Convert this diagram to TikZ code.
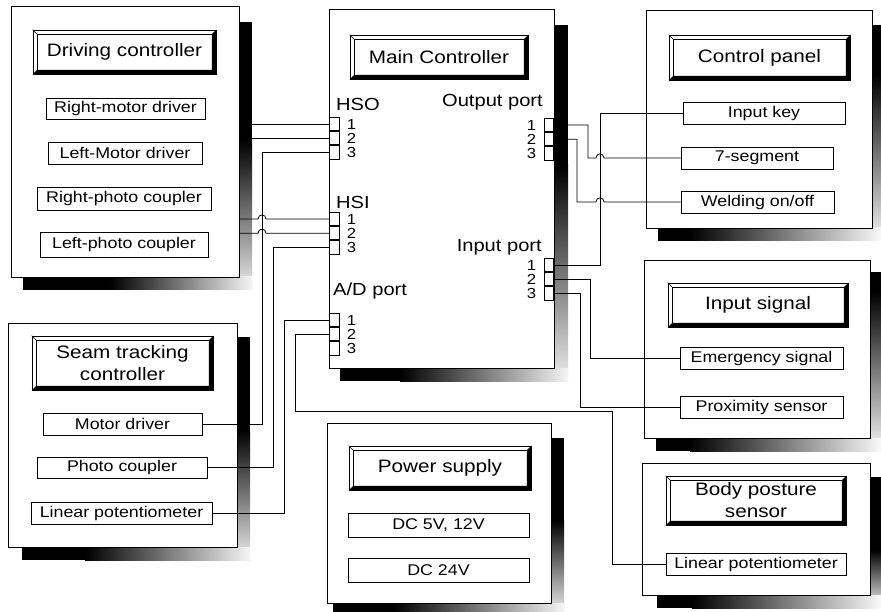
\documentclass[tikz,border=0pt]{standalone}
\usepackage{fontspec}
\setmainfont[FakeStretch=1.15]{Liberation Sans}
\tikzset{
  panel/.style={draw, line width=0.7pt, fill=white, inner sep=0pt},
  sub/.style={draw, line width=0.9pt, fill=white, inner sep=0pt, font=\fontsize{15.5}{18}\selectfont},
  ttl/.style={draw, line width=0.7pt, fill=white, inner sep=0pt, align=center, font=\fontsize{18}{22}\selectfont},
  plabel/.style={inner sep=0pt, font=\fontsize{17.5}{20}\selectfont},
  pnum/.style={inner sep=0pt, font=\fontsize{14.5}{14}\selectfont},
  portbox/.style={draw, line width=0.9pt, fill=white, minimum width=9.5pt, minimum height=13.3pt, inner sep=0pt},
  wire/.style={line width=0.8pt},
}
% box from corner (x1,y1) to (x2,y2): style, name, x1, y1, x2, y2, text
\newcommand\bx[7]{%
  \pgfmathsetmacro\bxw{#5-#3}\pgfmathsetmacro\bxh{#6-#4}%
  \pgfmathsetmacro\bxx{(#3+#5)/2}\pgfmathsetmacro\bxy{(#4+#6)/2}%
  \node[#1, minimum width=\bxw pt, minimum height=\bxh pt] (#2) at (\bxx,\bxy) {#7};}
\newcommand\bevel[1]{%
  \fill[black] (#1.south west) -- (#1.south east) -- (#1.north east)
    -- ([xshift=-4.5pt,yshift=-4.5pt]#1.north east) -- ([xshift=-4.5pt,yshift=4.5pt]#1.south east)
    -- ([xshift=4.5pt,yshift=4.5pt]#1.south west) -- cycle;
  \draw[line width=0.6pt] ([xshift=4.5pt,yshift=-4.5pt]#1.north west) rectangle ([xshift=-4.5pt,yshift=4.5pt]#1.south east);
  \draw[line width=0.6pt] (#1.north west) -- ([xshift=4.5pt,yshift=-4.5pt]#1.north west);
}
\begin{document}
\begin{tikzpicture}[x=1pt,y=-1pt]
\useasboundingbox (0,0) rectangle (881,612);
% ---------- shadows ----------
% driving
\fill (239,22) rectangle (252,140);
\shade[top color=black, bottom color=gray!15] (239,140) rectangle (252,290);
\fill (23,277) rectangle (110,290);
\shade[left color=black, right color=gray!8] (110,277) rectangle (252,290);
% seam
\fill (237,337) rectangle (250,430);
\shade[top color=black, bottom color=gray!15] (237,430) rectangle (250,560);
\fill (22,547) rectangle (85,560);
\shade[left color=black, right color=gray!8] (85,547) rectangle (250,560);
% main
\fill (554,25) rectangle (568,165);
\shade[top color=black, bottom color=gray!15] (554,165) rectangle (568,381);
\fill (340,368) rectangle (400,381);
\shade[left color=black, right color=gray!8] (400,368) rectangle (568,381);
% power
\fill (551,438) rectangle (564,520);
\shade[top color=black, bottom color=gray!15] (551,520) rectangle (564,612);
\fill (333,603) rectangle (393,612);
\shade[left color=black, right color=gray!8] (393,603) rectangle (564,612);
% control panel
\fill (872,25) rectangle (881,75);
\shade[top color=black, bottom color=gray!8] (872,75) rectangle (881,241);
\fill (658,228) rectangle (690,241);
\shade[left color=black, right color=gray!5] (690,228) rectangle (881,241);
% input signal
\fill (870,272) rectangle (881,292);
\shade[top color=black, bottom color=gray!8] (870,292) rectangle (881,451);
\fill (656,438) rectangle (690,451);
\shade[left color=black, right color=gray!5] (690,438) rectangle (881,451);
% body posture
\fill (870,477) rectangle (881,550);
\shade[top color=black, bottom color=gray!10] (870,550) rectangle (881,608);
\fill (657,595) rectangle (692,608);
\shade[left color=black, right color=gray!5] (692,595) rectangle (881,608);

% ---------- panels ----------
\bx{panel}{drv}{11}{6}{239}{277}{}
\bx{panel}{seam}{8}{323}{237}{547}{}
\bx{panel}{mainp}{329}{9}{554}{368}{}
\bx{panel}{pow}{327}{423}{551}{603}{}
\bx{panel}{ctl}{646}{10}{872}{228}{}
\bx{panel}{insig}{644}{260}{870}{438}{}
\bx{panel}{body}{642}{463}{870}{595}{}

% ---------- titles ----------
\bx{ttl}{drvt}{33}{30}{216}{74}{Driving controller}
\bx{ttl}{seamt}{32}{336}{213}{390}{Seam tracking\\controller}
\bx{ttl}{maint}{350}{35}{528}{79}{Main Controller}
\bx{ttl}{powt}{349}{446}{531}{490}{Power supply}
\bx{ttl}{ctlt}{669}{35}{850}{80}{Control panel}
\bx{ttl}{insigt}{668}{283}{848}{327}{Input signal}
\bx{ttl}{bodyt}{666}{476}{846}{525}{Body posture\\sensor}
\bevel{drvt}\bevel{seamt}\bevel{maint}\bevel{powt}\bevel{ctlt}\bevel{insigt}\bevel{bodyt}

% ---------- sub boxes ----------
\bx{sub}{rmd}{46}{98}{205}{119}{Right-motor driver}
\bx{sub}{lmd}{48}{142}{202}{164}{Left-Motor driver}
\bx{sub}{rpc}{37}{187}{211}{210}{Right-photo coupler}
\bx{sub}{lpc}{40}{232}{208}{257}{Left-photo coupler}
\bx{sub}{md}{43}{413}{202}{435}{Motor driver}
\bx{sub}{pc}{37}{457}{207}{478}{Photo coupler}
\bx{sub}{lp}{31}{502}{212}{524}{Linear potentiometer}
\bx{sub}{ik}{683}{102}{845}{124}{Input key}
\bx{sub}{seg}{681}{147}{833}{169}{7-segment}
\bx{sub}{wel}{681}{191}{834}{213}{Welding on/off}
\bx{sub}{em}{680}{347}{843}{369}{Emergency signal}
\bx{sub}{prox}{680}{396}{843}{418}{Proximity sensor}
\bx{sub}{dca}{348}{513}{529}{537}{DC 5V, 12V}
\bx{sub}{dcb}{348}{558}{529}{582}{DC 24V}
\bx{sub}{blp}{666}{553}{846}{575}{Linear potentiometer}

% ---------- port labels ----------
\node[plabel, anchor=west] (hsol) at (336,104) {HSO};
\node[plabel, anchor=west] (hsil) at (336,202) {HSI};
\node[plabel, anchor=west] (adl) at (333,291) {A/D port};
\node[plabel, anchor=east] (outl) at (543,102) {Output port};
\node[plabel, anchor=east] (inl) at (542,247) {Input port};

% ---------- channel coordinates ----------
\coordinate (vA) at (262,0);
\coordinate (vB) at (273,0);
\coordinate (vC) at (284,0);
\coordinate (vD) at (295,0);
\coordinate (hD) at (0,411);
\coordinate (vE) at (612,0);
\coordinate (vO1) at (588,0);
\coordinate (vO2) at (577,0);
\coordinate (vO3) at (567,0);
\coordinate (vI1) at (600,0);
\coordinate (vI2) at (590,0);
\coordinate (vI3) at (580,0);

% ---------- ports ----------
\node[portbox, anchor=north west] (hso1) at (329,117) {};
\node[portbox, anchor=north] (hso2) at (hso1.south) {};
\node[portbox, anchor=north] (hso3) at (hso2.south) {};
\node[portbox, anchor=north west] (hsi1) at (329,212) {};
\node[portbox, anchor=north] (hsi2) at (hsi1.south) {};
\node[portbox, anchor=north] (hsi3) at (hsi2.south) {};
\node[portbox, anchor=north west] (ad1) at (329,313) {};
\node[portbox, anchor=north] (ad2) at (ad1.south) {};
\node[portbox, anchor=north] (ad3) at (ad2.south) {};
\node[portbox, anchor=north east] (out1) at (554,118) {};
\node[portbox, anchor=north] (out2) at (out1.south) {};
\node[portbox, anchor=north] (out3) at (out2.south) {};
\node[portbox, anchor=north east] (in1) at (554,258) {};
\node[portbox, anchor=north] (in2) at (in1.south) {};
\node[portbox, anchor=north] (in3) at (in2.south) {};

\foreach \p/\n in {hso1/1,hso2/2,hso3/3,hsi1/1,hsi2/2,hsi3/3,ad1/1,ad2/2,ad3/3}
  \node[pnum] (\p n) at ([xshift=12pt]\p.east) {\n};
\foreach \p/\n in {out1/1,out2/2,out3/3,in1/1,in2/2,in3/3}
  \node[pnum] (\p n) at ([xshift=-12pt]\p.west) {\n};

% ---------- wires ----------
\draw[wire] (drv.east |- hso1.west) -- (hso1.west);
\draw[wire] (drv.east |- hso2.west) -- (hso2.west);
\draw[wire] (hso3.west) -- (hso3.west -| vA) -- (vA |- md.east) -- (md.east);
\draw[wire] (drv.east |- hsi1.west) -- ([xshift=-4pt]vA |- hsi1.west)
   .. controls +(0,-5.5) and +(0,-5.5) .. ([xshift=4pt]vA |- hsi1.west) -- (hsi1.west);
\draw[wire] (drv.east |- hsi2.west) -- ([xshift=-4pt]vA |- hsi2.west)
   .. controls +(0,-5.5) and +(0,-5.5) .. ([xshift=4pt]vA |- hsi2.west) -- (hsi2.west);
\draw[wire] (hsi3.west) -- (hsi3.west -| vB) -- (vB |- pc.east) -- (pc.east);
\draw[wire] (ad1.west) -- (ad1.west -| vC) -- (vC |- lp.east) -- (lp.east);
\draw[wire] (ad2.west) -- (ad2.west -| vD) -- (vD |- hD) -- (vE |- hD) -- (vE |- blp.west) -- (blp.west);

\draw[wire] (out1.east) -- (out1.east -| vO1) -- (vO1 |- seg.west) -- ([xshift=-4pt]vI1 |- seg.west)
   .. controls +(0,-5.5) and +(0,-5.5) .. ([xshift=4pt]vI1 |- seg.west) -- (seg.west);
\draw[wire] (out2.east) -- (out2.east -| vO2) -- (vO2 |- wel.west) -- ([xshift=-4pt]vI1 |- wel.west)
   .. controls +(0,-5.5) and +(0,-5.5) .. ([xshift=4pt]vI1 |- wel.west) -- (wel.west);
\draw[wire] (out3.east) -- (out3.east -| vO3);
\draw[wire] (in1.east) -- (in1.east -| vI1) -- (vI1 |- ik.west) -- (ik.west);
\draw[wire] (in2.east) -- (in2.east -| vI2) -- (vI2 |- em.west) -- (em.west);
\draw[wire] (in3.east) -- (in3.east -| vI3) -- (vI3 |- prox.west) -- (prox.west);
\end{tikzpicture}
\end{document}
